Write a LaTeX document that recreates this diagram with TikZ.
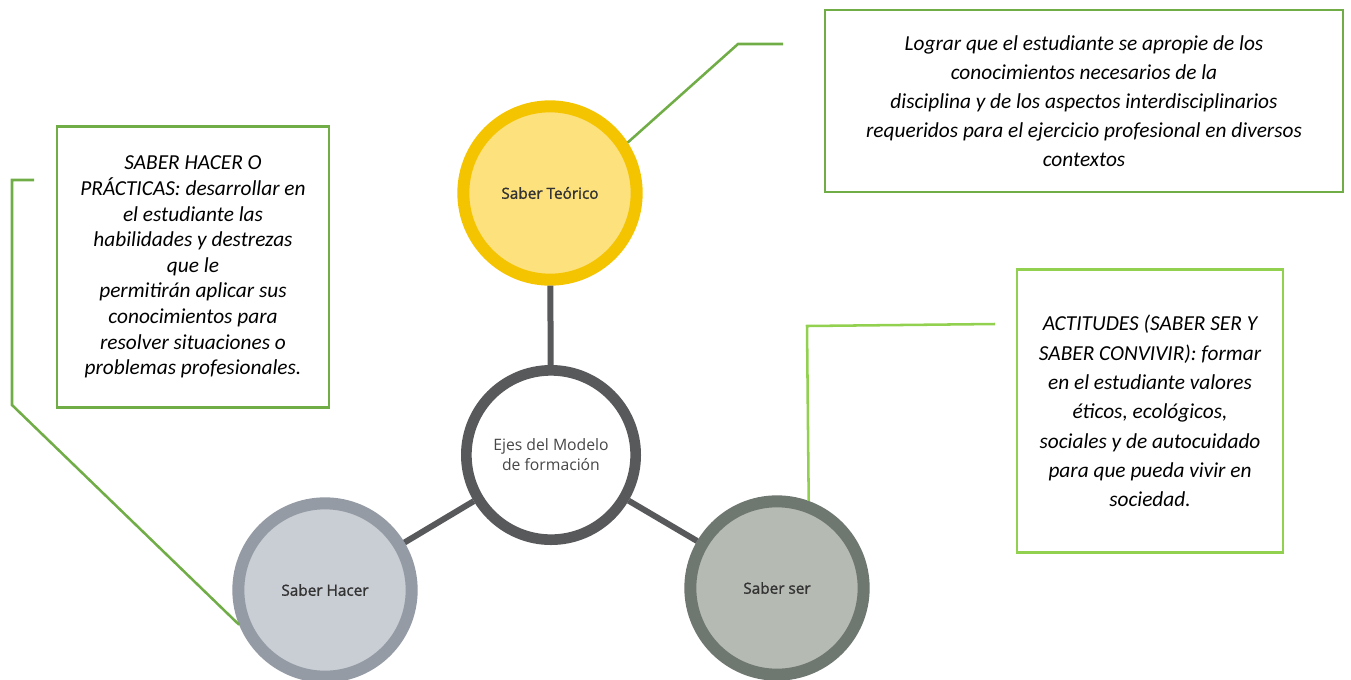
\documentclass[tikz,border=0pt]{standalone}
\usepackage{fontspec}
\setmainfont{Carlito}
\newfontfamily\osans{Open Sans}
\newfontfamily\osansb[FakeBold=1.3]{Open Sans}
\definecolor{gdark}{HTML}{70AD47}
\definecolor{glight}{HTML}{92D050}
\definecolor{yring}{HTML}{F5C400}
\definecolor{yfill}{HTML}{FDE17D}
\definecolor{cring}{HTML}{58595B}
\definecolor{hring}{HTML}{949BA4}
\definecolor{hfill}{HTML}{C9CDD4}
\definecolor{sring}{HTML}{6F7771}
\definecolor{sfill}{HTML}{B5BAB3}
\begin{document}
\begin{tikzpicture}[x=0.75pt,y=-0.75pt,
  ring/.style={circle,minimum size=#1,inner sep=0pt,font=\osansb\fontsize{11.5}{15}\selectfont,text=black!80,align=center},
  calloutbox/.style={draw=gdark,line width=1.9pt,inner sep=0pt,font=\itshape\fontsize{16}{21.75}\selectfont,align=center},
  gline/.style={draw=gdark,line width=1.9pt},
  axis/.style={draw=cring,line width=4.5pt}]
\useasboundingbox (0,0) rectangle (1351,679);
% circles
\node[ring=130pt,draw=yring,fill=yfill,line width=9pt] (teo) at (550,193) {Saber Teórico};
\node[ring=127pt,draw=cring,fill=white,line width=8pt,font=\osans\fontsize{11.8}{15}\selectfont,text=black!72] (ejes) at (551,455) {Ejes del Modelo\\de formación};
\node[ring=130pt,draw=hring,fill=hfill,line width=9pt] (hacer) at (325,590) {Saber Hacer};
\node[ring=130pt,draw=sring,fill=sfill,line width=9pt] (ser) at (777,588) {Saber ser};
% axes
\draw[axis] (teo) -- (ejes);
\draw[axis] (ejes) -- (hacer);
\draw[axis] (ejes) -- (ser);
% boxes
\node[calloutbox,minimum width=388.5pt,minimum height=136.5pt] (b1) at (1084,101) {Lograr que el estudiante se apropie de los\\conocimientos necesarios de la\\disciplina y de los aspectos interdisciplinarios\\requeridos para el ejercicio profesional en diversos\\contextos};
\node[calloutbox,minimum width=204pt,minimum height=210.75pt,font=\itshape\fontsize{16}{19.2}\selectfont] (b2) at (193,267) {SABER HACER O\\PRÁCTICAS: desarrollar en\\el estudiante las\\habilidades y destrezas\\que le\\permitirán aplicar sus\\conocimientos para\\resolver situaciones o\\problemas profesionales.};
\node[calloutbox,draw=glight,minimum width=199.5pt,minimum height=212.25pt,font=\itshape\fontsize{16}{22}\selectfont] (b3) at (1150,411) {ACTITUDES (SABER SER Y\\SABER CONVIVIR): formar\\en el estudiante valores\\éticos, ecológicos,\\sociales y de autocuidado\\para que pueda vivir en\\sociedad.};
% callout lines
\coordinate (c1a) at (783,44);
\coordinate (c1b) at (738,44);
\draw[gline] (c1a) -- (c1b) -- (teo.33);
\coordinate (c2a) at (34,180);
\coordinate (c2b) at (12,180);
\coordinate (c2c) at (12,405);
\draw[gline] (c2a) -- (c2b) -- (c2c) -- (hacer.202);
\coordinate (c3a) at (995,324);
\coordinate (c3b) at (807,326);
\draw[gline,draw=glight] (c3a) -- (c3b) -- (ser.70);
\end{tikzpicture}
\end{document}
